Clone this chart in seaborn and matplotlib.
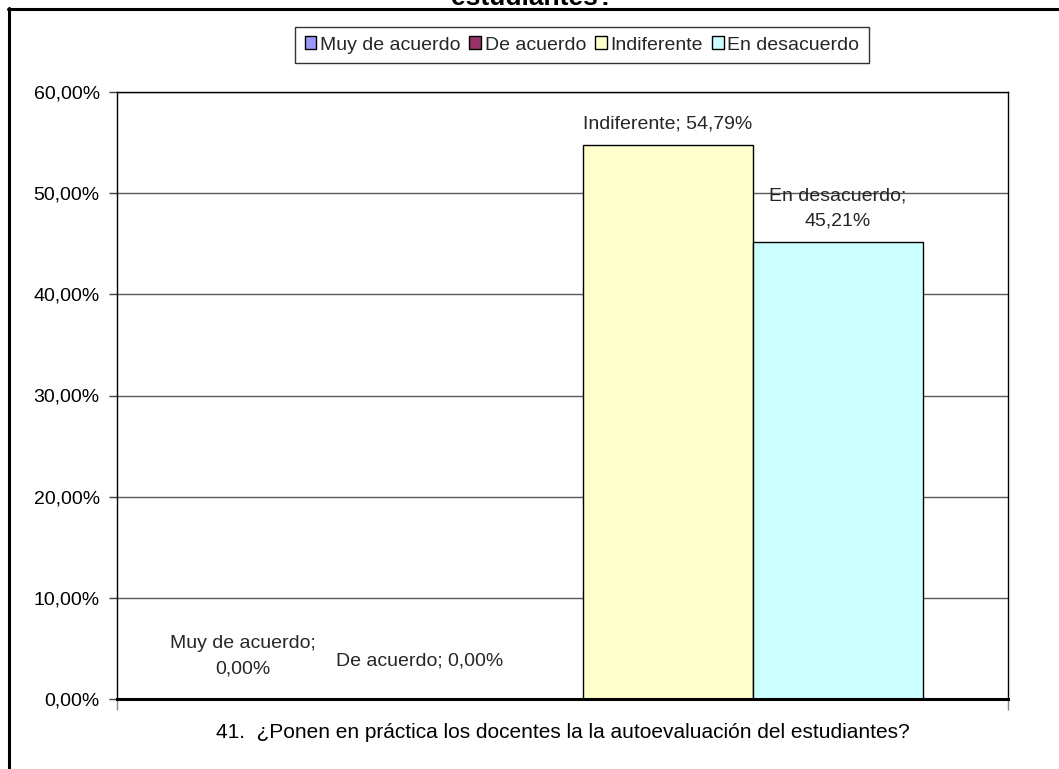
import matplotlib
matplotlib.use("Agg")
import matplotlib.pyplot as plt
from matplotlib.lines import Line2D
from matplotlib.patches import Patch
from matplotlib.ticker import FuncFormatter
import seaborn as sns
import pandas as pd

# Survey item and answer distribution (percent)
pregunta = "41.  ¿Ponen en práctica los docentes la la autoevaluación del estudiantes?"
respuestas = ["Muy de acuerdo", "De acuerdo", "Indiferente", "En desacuerdo"]
porcentajes = [0.00, 0.00, 54.79, 45.21]
colores = ["#9999FF", "#993366", "#FFFFCC", "#CCFFFF"]
titulo_final = "estudiantes?"

df = pd.DataFrame({
    "pregunta": [pregunta] * len(respuestas),
    "respuesta": respuestas,
    "valor": porcentajes,
})

sns.set_theme(style="white")
plt.rcParams["font.family"] = ["Liberation Sans", "DejaVu Sans"]

W, H = 1059, 769
fig = plt.figure(figsize=(W / 100, H / 100), dpi=100)
fig.patch.set_facecolor("white")

# plot area in pixel terms
left, right, top, bottom = 117, 1008, 92, 699
ax = fig.add_axes([left / W, 1 - bottom / H, (right - left) / W, (bottom - top) / H])

sns.barplot(data=df, x="pregunta", y="valor", hue="respuesta",
            hue_order=respuestas, palette=colores, saturation=1,
            edgecolor="black", linewidth=1, width=0.8, legend=False, ax=ax)

ax.set_ylim(0, 60)
ax.set_xlim(-0.548, 0.5)
ax.set_yticks(range(0, 61, 10))
ax.yaxis.set_major_formatter(FuncFormatter(lambda v, _: f"{v:.2f}%".replace(".", ",")))
ax.yaxis.grid(True, color="#5a5a5a", linewidth=1)
ax.set_axisbelow(True)
ax.set_xticks([-0.548, 0.5])
ax.set_xticklabels(["", ""])
ax.tick_params(axis="y", left=True, length=6, width=1, color="#444444",
               labelsize=14, pad=6.5, labelcolor="black")
ax.tick_params(axis="x", bottom=True, length=8, width=1, color="#888888")
ax.set_ylabel("")
ax.set_xlabel(pregunta, fontsize=15, labelpad=6, color="black")

for side in ["left", "right", "top"]:
    ax.spines[side].set_visible(True)
    ax.spines[side].set_color("black")
    ax.spines[side].set_linewidth(1)
ax.spines["bottom"].set_color("black")
ax.spines["bottom"].set_linewidth(2.2)

# value labels
bars = [p for p in ax.patches if p.get_width() > 0][:len(respuestas)]
for bar, nombre, val in zip(bars, respuestas, porcentajes):
    txt_val = f"{val:.2f}%".replace(".", ",")
    x0 = bar.get_x()
    xc = x0 + bar.get_width() / 2
    h = bar.get_height()
    if nombre == "Muy de acuerdo":
        ax.annotate(f"{nombre};\n{txt_val}", (x0, h), xytext=(0, 22),
                    textcoords="offset pixels", ha="center", va="bottom",
                    fontsize=14, linespacing=1.6)
    elif nombre == "De acuerdo":
        ax.annotate(f"{nombre}; {txt_val}", (xc, h), xytext=(5, 30),
                    textcoords="offset pixels", ha="right", va="bottom",
                    fontsize=14)
    elif nombre == "Indiferente":
        ax.annotate(f"{nombre}; {txt_val}", (xc, h), xytext=(0, 12),
                    textcoords="offset pixels", ha="center", va="bottom",
                    fontsize=14)
    else:
        ax.annotate(f"{nombre};\n{txt_val}", (xc, h), xytext=(0, 12),
                    textcoords="offset pixels", ha="center", va="bottom",
                    fontsize=14, linespacing=1.65)

# legend across the top
handles = [Patch(facecolor=c, edgecolor="black", linewidth=1) for c in colores]
leg = fig.legend(handles, respuestas, loc="center", bbox_to_anchor=(582 / W, 1 - 45 / H),
                 ncol=4, frameon=True, fancybox=False, fontsize=14,
                 handlelength=0.6, handleheight=0.6, handletextpad=0.2,
                 columnspacing=0.45, borderpad=0.5, borderaxespad=0)
leg.get_frame().set_edgecolor("black")
leg.get_frame().set_linewidth(1)

# outer chart frame (top and left edges)
fig.add_artist(Line2D([8 / W, 1], [1 - 8.5 / H, 1 - 8.5 / H], color="black", linewidth=2.2,
                      transform=fig.transFigure))
fig.add_artist(Line2D([8.5 / W, 8.5 / W], [0, 1 - 8 / H], color="black", linewidth=2.2,
                      transform=fig.transFigure))

# tail of the chart title, above the frame
fig.text(533 / W, 1 - 5 / H, titulo_final, ha="center", va="baseline",
         fontsize=19, fontweight="bold", color="black")

fig.savefig("out.png", dpi=100, facecolor="white")
